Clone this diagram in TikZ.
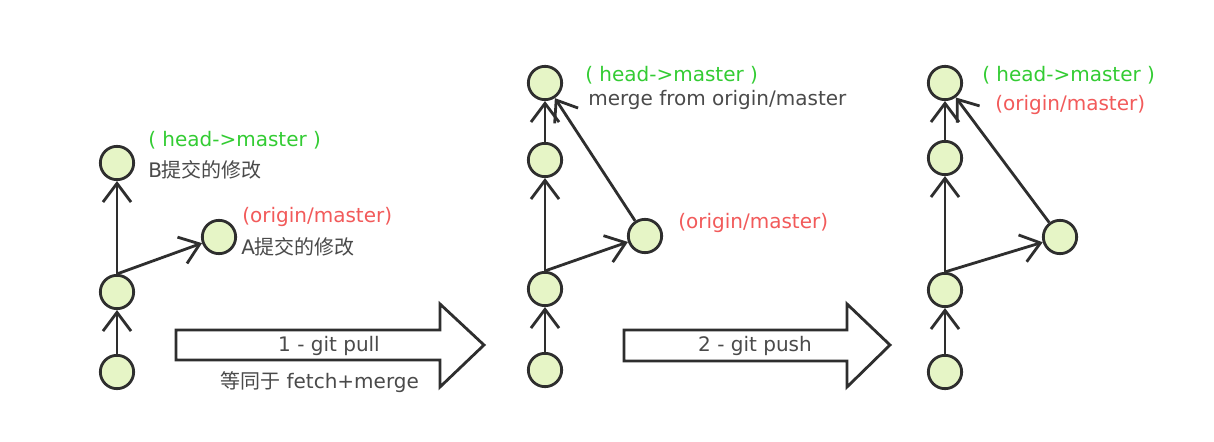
\documentclass[tikz,border=0pt]{standalone}
\usepackage{fontspec}
\setmainfont{DejaVu Sans}
\newfontfamily\cjk{Noto Sans CJK SC}
\usetikzlibrary{arrows.meta}
\definecolor{nodefill}{HTML}{E6F5C6}
\definecolor{ink}{HTML}{2E2E2E}
\definecolor{txtgray}{HTML}{4A4A4A}
\definecolor{lblgreen}{HTML}{33CC33}
\definecolor{lblred}{HTML}{F25A5A}
\begin{document}
\begin{tikzpicture}[x=0.75pt,y=-0.75pt,
  commit/.style={circle,draw=ink,fill=nodefill,line width=2.1pt,minimum size=25pt,inner sep=0pt},
  edge/.style={draw=ink,line width=2.1pt,-{Straight Barb[length=14pt,width=21pt]}},
  lbl/.style={font=\fontsize{15pt}{18pt}\selectfont,inner sep=0pt,anchor=west,text=txtgray},
  headlbl/.style={lbl,text=lblgreen},
  originlbl/.style={lbl,text=lblred},
  bigarrow/.style={draw=ink,fill=white,line width=2.1pt,line join=miter}]
\useasboundingbox (0,0) rectangle (1214,442);
\fill[white] (0,0) rectangle (1214,442);

% graph 1
\node[commit] (a1) at (117,163) {};
\node[commit] (a2) at (117,292) {};
\node[commit] (a3) at (117,372) {};
\node[commit] (aA) at (219,237) {};
\draw[edge] (a3) -- (a2);
\draw[edge] (a2) -- (a1);
\draw[edge] (a2.north) -- (aA);
\node[headlbl] (ah) at (148,140) {( head->master )};
\node[lbl] (aB) at (148,170) {B{\cjk 提交的修改}};
\node[originlbl] (ao) at (242,217) {(origin/master)};
\node[lbl] (aAt) at (241,247) {A{\cjk 提交的修改}};

% arrow 1
\draw[bigarrow] (176,330) -- (440,330) -- (440,304) -- (484,345) -- (440,387) -- (440,360) -- (176,360) -- cycle;
\node[lbl,anchor=center] (pull) at (329,346) {1 - git pull};
\node[lbl] (pulleq) at (220,382) {{\cjk 等同于} fetch+merge};

% graph 2
\node[commit] (b1) at (545,83) {};
\node[commit] (b2) at (545,160) {};
\node[commit] (b3) at (545,289) {};
\node[commit] (b4) at (545,370) {};
\node[commit] (bS) at (645,236) {};
\draw[edge] (b4) -- (b3);
\draw[edge] (b3) -- (b2);
\draw[edge] (b2) -- (b1);
\draw[edge] (b3.north) -- (bS);
\draw[edge] (bS) -- (b1);
\node[headlbl] (bh) at (585,75) {( head->master )};
\node[lbl] (bm) at (588,100) {merge from origin/master};
\node[originlbl] (bo) at (678,223) {(origin/master)};

% arrow 2
\draw[bigarrow] (624,330) -- (847,330) -- (847,304) -- (890,345) -- (847,387) -- (847,361) -- (624,361) -- cycle;
\node[lbl,anchor=center] (push) at (755,346) {2 - git push};

% graph 3
\node[commit] (c1) at (945,83) {};
\node[commit] (c2) at (945,158) {};
\node[commit] (c3) at (945,290) {};
\node[commit] (c4) at (945,372) {};
\node[commit] (cS) at (1060,237) {};
\draw[edge] (c4) -- (c3);
\draw[edge] (c3) -- (c2);
\draw[edge] (c2) -- (c1);
\draw[edge] (c3.north) -- (cS);
\draw[edge] (cS) -- (c1);
\node[headlbl] (ch) at (982,75) {( head->master )};
\node[originlbl] (co) at (995,105) {(origin/master)};
\end{tikzpicture}
\end{document}
